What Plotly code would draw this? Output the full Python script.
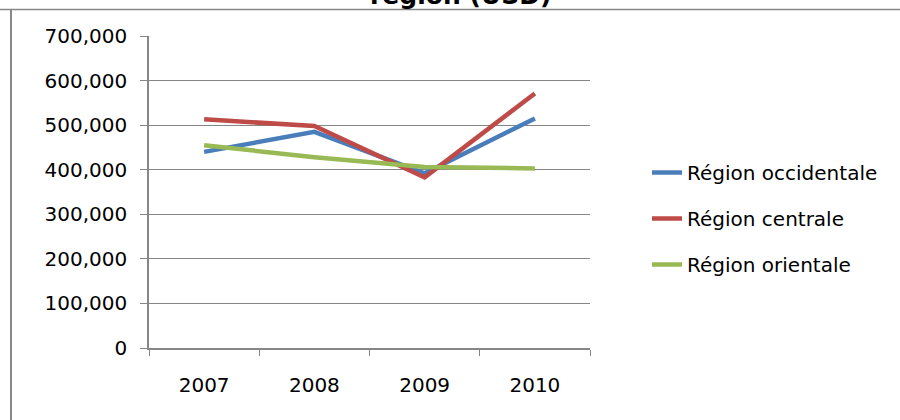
import plotly.graph_objects as go

years = ["2007", "2008", "2009", "2010"]
occidentale = [440000, 485000, 392000, 515000]
centrale = [513000, 498000, 383000, 571000]
orientale = [455000, 428000, 406000, 403000]
series_names = ["Région occidentale", "Région centrale", "Région orientale"]
colors = ["#4a7ebb", "#be4b48", "#98b954"]
y_ticks = [0, 100000, 200000, 300000, 400000, 500000, 600000, 700000]

FONT = "DejaVu Sans"
FS = 20

fig = go.Figure()
for i, (name, vals) in enumerate(zip(series_names, [occidentale, centrale, orientale])):
    fig.add_trace(go.Scatter(
        x=years, y=vals, mode="lines", name=name,
        line=dict(color=colors[i], width=4.5),
        legendgroup=f"g{i}",
    ))

L, R, T, B = 149, 590, 36, 348
W, H = 900, 420
pw, ph = R - L, B - T

def px_x(x):
    return (x - L) / pw

def px_y(y):
    return (B - y) / ph

fig.update_layout(
    width=W, height=H,
    margin=dict(l=L, r=W - R, t=T, b=H - B, pad=0),
    paper_bgcolor="white", plot_bgcolor="white",
    font=dict(family=FONT, size=FS, color="#000000"),
    showlegend=True,
    legend=dict(
        x=px_x(647), xanchor="left",
        y=px_y(153), yanchor="top",
        traceorder="grouped", tracegroupgap=17,
        font=dict(family=FONT, size=FS, color="#000000"),
        bgcolor="rgba(0,0,0,0)",
    ),
    xaxis=dict(
        type="category", range=[-0.5, 3.5],
        showline=True, linecolor="#868686", linewidth=1.5,
        ticks="outside", ticklen=6, tickcolor="#868686", tickson="boundaries",
        showgrid=False, tickfont=dict(family=FONT, size=FS, color="#000000"),
        ticklabelstandoff=18,
    ),
    yaxis=dict(
        range=[0, 700000], tickvals=y_ticks, tickformat=",",
        showline=True, linecolor="#868686", linewidth=1.5,
        ticks="outside", ticklen=7, tickcolor="#868686",
        showgrid=True, gridcolor="#868686", gridwidth=1.2,
        zeroline=False,
        tickfont=dict(family=FONT, size=FS, color="#000000"),
        ticklabelstandoff=9,
    ),
    shapes=[
        dict(type="line", xref="paper", yref="paper",
             x0=px_x(0), x1=px_x(900), y0=px_y(9.5), y1=px_y(9.5),
             line=dict(color="#888888", width=1.5)),
        dict(type="line", xref="paper", yref="paper",
             x0=px_x(11), x1=px_x(11), y0=px_y(9.5), y1=px_y(420),
             line=dict(color="#888888", width=2)),
    ],
    annotations=[
        dict(text="<b>région (USD)</b>", xref="paper", yref="paper",
             x=px_x(460), y=px_y(12), xanchor="center", yanchor="bottom",
             showarrow=False, font=dict(family=FONT, size=25, color="#000000")),
    ],
)

fig.write_html("out.html")
